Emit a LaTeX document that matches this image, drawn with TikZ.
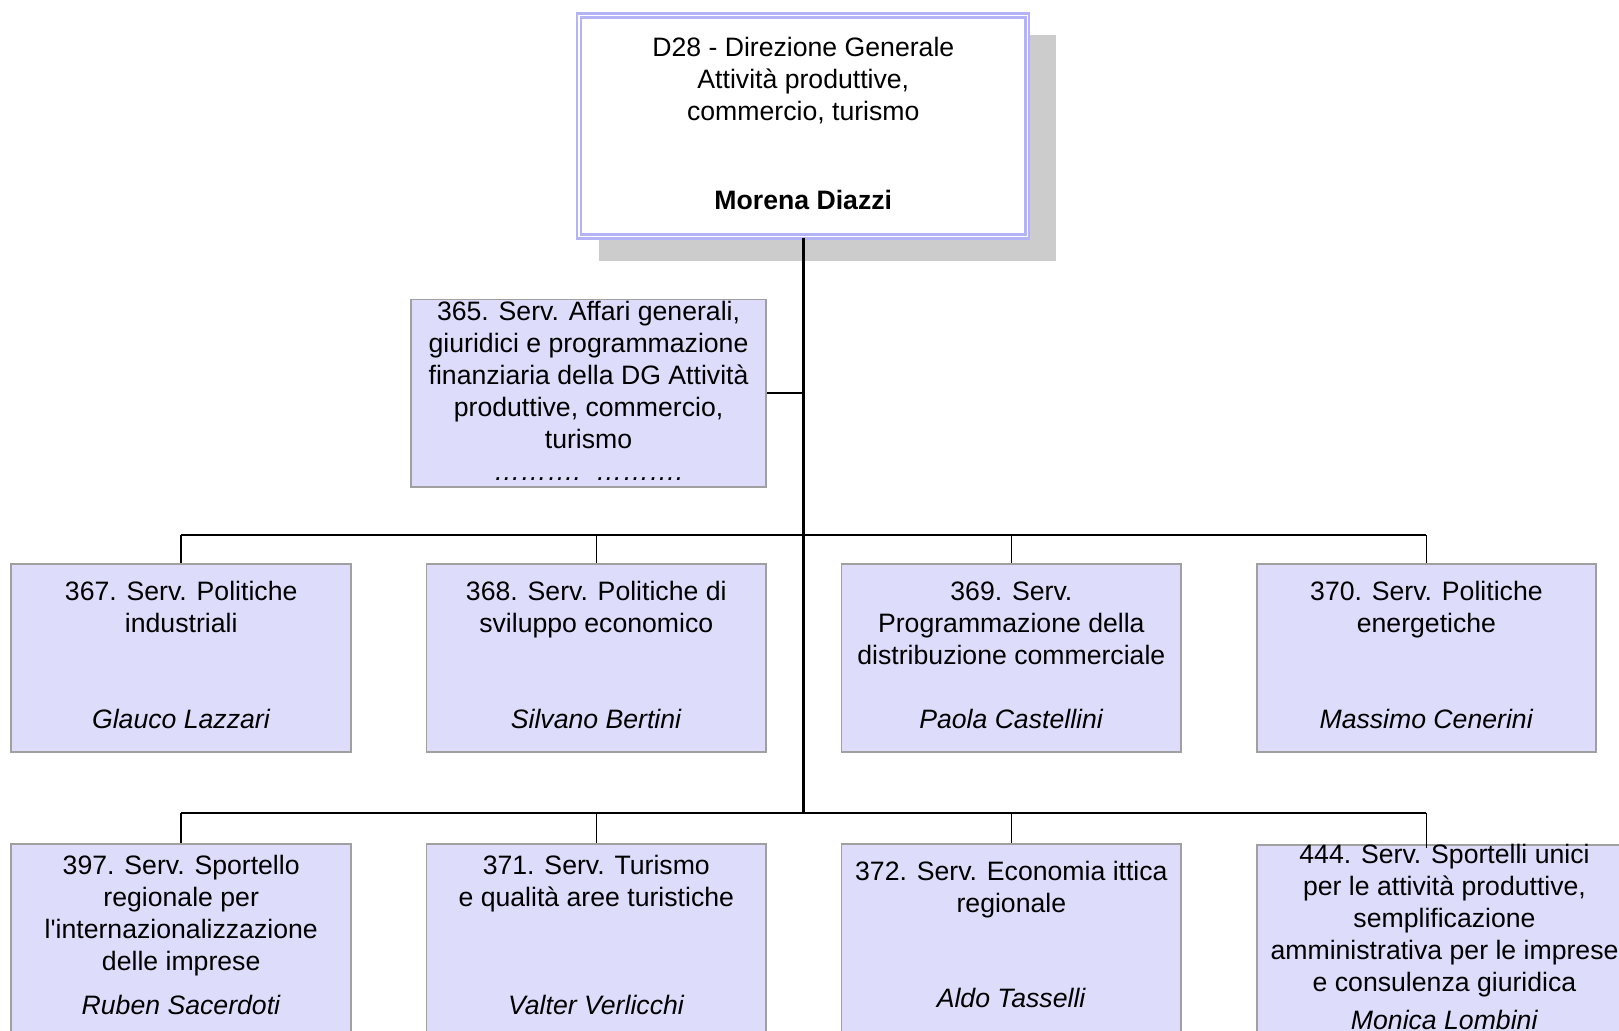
\documentclass[tikz,border=0pt]{standalone}
\usepackage{fontspec}
\setmainfont{Liberation Sans}
\newfontfamily\aposfont{Liberation Sans}
\usetikzlibrary{shadows}

\definecolor{servfill}{RGB}{221,221,251}
\definecolor{servline}{RGB}{160,160,160}
\definecolor{dirline}{RGB}{179,179,245}
\definecolor{dirshadow}{RGB}{204,204,204}

\begin{document}
\begin{tikzpicture}[x=0.5pt, y=-0.5pt,
    txt/.style={align=center, inner sep=0pt, font=\fontsize{12.9}{15.5}\selectfont,
        execute at begin node={\rule{0pt}{12.85pt}}, execute at end node={\rule[-2.65pt]{0pt}{2.65pt}}},
    serv/.style={txt, draw=servline, line width=0.9pt, fill=servfill,
        minimum width=164.5pt, minimum height=91pt},
    dir/.style={txt, draw=dirline, line width=1.1pt, double=white, double distance=0.8pt,
        fill=white, minimum width=217pt, minimum height=107pt,
        drop shadow={fill=dirshadow, opacity=1, shadow scale=1.02, shadow xshift=11.5pt, shadow yshift=-10.5pt}},
    trunk/.style={line width=1.3pt},
    bus/.style={line width=1pt},
    drop/.style={line width=0.7pt}]
    \clip (0,0) rectangle (1568,998);

    %Nodes
    \node[dir] at (778,122) (D28) {D28 - Direzione Generale\\Attività produttive,\\commercio, turismo\\[27.5pt]\textbf{Morena Diazzi}};
    \node[serv, minimum width=172pt] at (570,381) (S365) {365. Serv. Affari generali,\\giuridici e programmazione\\finanziaria della DG Attività\\produttive, commercio,\\turismo\\\textit{……….\ \ ……….}};

    \node[serv] at (175.5,637) (S367) {367. Serv. Politiche\\industriali\\[31pt]\textit{Glauco Lazzari}};
    \node[serv] at (577.5,637) (S368) {368. Serv. Politiche di\\sviluppo economico\\[31pt]\textit{Silvano Bertini}};
    \node[serv] at (979.5,637) (S369) {369. Serv.\\Programmazione della\\distribuzione commerciale\\[15.5pt]\textit{Paola Castellini}};
    \node[serv] at (1381.5,637) (S370) {370. Serv. Politiche\\energetiche\\[31pt]\textit{Massimo Cenerini}};

    \node[serv] at (175.5,908) (S397) {397. Serv. Sportello\\regionale per\\l{\aposfont'}internazionalizzazione\\delle imprese\\[6pt]\textit{Ruben Sacerdoti}};
    \node[serv] at (577.5,908) (S371) {371. Serv. Turismo\\e qualità aree turistiche\\[37pt]\textit{Valter Verlicchi}};
    \node[serv] at (979.5,908) (S372) {372. Serv. Economia ittica\\regionale\\[30.5pt]\textit{Aldo Tasselli}};
    \node[serv, minimum width=182pt] at (1399,910) (S444) {444. Serv. Sportelli unici\\per le attività produttive,\\semplificazione\\amministrativa per le imprese\\e consulenza giuridica\\[2.5pt]\textit{Monica Lombini}};

    \coordinate (J1) at (778,518);
    \coordinate (J2) at (778,787);

    %Lines
    \draw[trunk] (D28) -- (J2);
    \draw[bus] (S365) -- (S365 -| J1);
    \draw[bus] (S367 |- J1) -- (S370 |- J1);
    \draw[bus] (S397 |- J2) -- (S370 |- J2);
    \draw[drop] (S367) -- (S367 |- J1);
    \draw[drop] (S368) -- (S368 |- J1);
    \draw[drop] (S369) -- (S369 |- J1);
    \draw[drop] (S370) -- (S370 |- J1);
    \draw[drop] (S397) -- (S397 |- J2);
    \draw[drop] (S371) -- (S371 |- J2);
    \draw[drop] (S372) -- (S372 |- J2);
    \draw[drop] (S370 |- J2) -- ([yshift=-2pt]S370 |- S444.north);
\end{tikzpicture}
\end{document}
